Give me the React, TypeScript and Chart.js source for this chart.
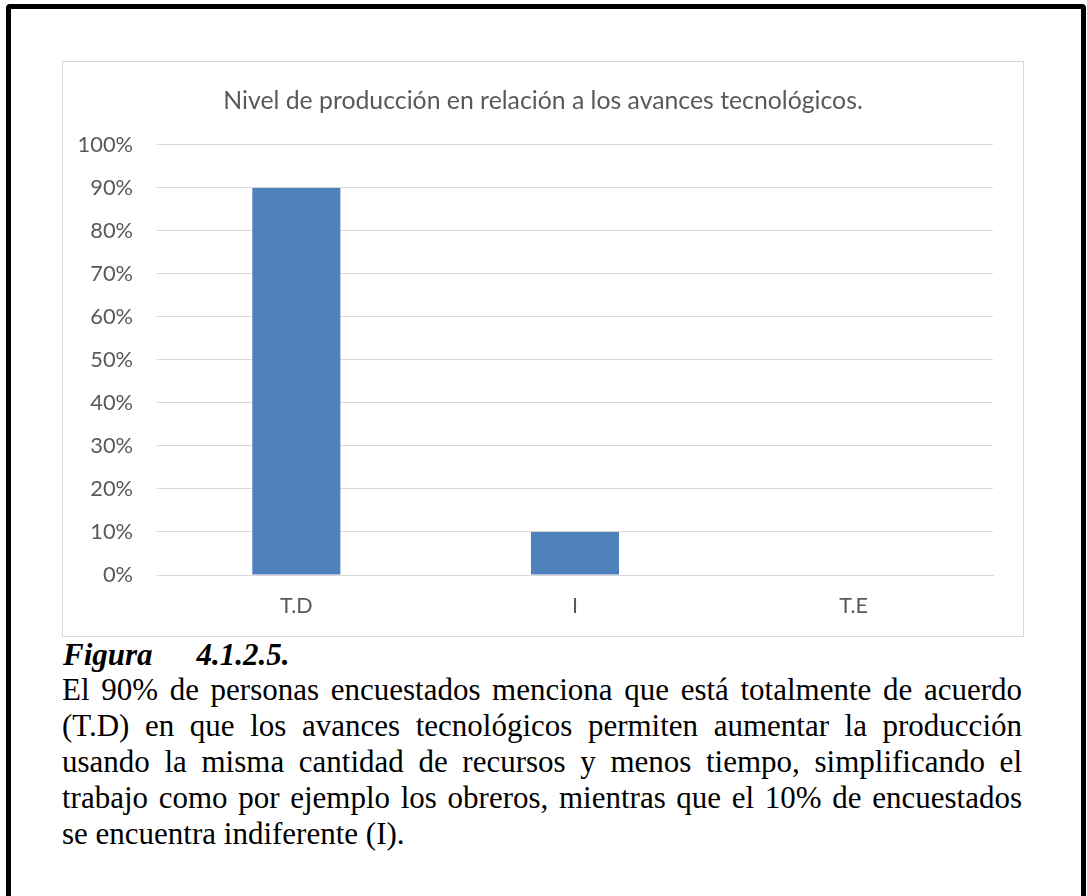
import React, { useEffect, useRef } from "react";
import { Chart, registerables } from "chart.js";

Chart.register(...registerables);

const categories: string[] = ["T.D", "I", "T.E"];
const percentValues: number[] = [90, 10, 0];
const chartTitle = "Nivel de producción en relación a los avances tecnológicos.";
const yTickMax = 100;
const yTickStep = 10;

const captionLabel = "Figura";
const captionNumber = "4.1.2.5.";
const bodyLines: string[] = [
  "El 90% de personas encuestados menciona que está totalmente de acuerdo",
  "(T.D) en que los avances tecnológicos permiten aumentar la producción",
  "usando la misma cantidad de recursos y menos tiempo, simplificando el",
  "trabajo como por ejemplo los obreros, mientras que el 10% de encuestados",
  "se encuentra indiferente (I).",
];

function BarChart() {
  const ref = useRef<HTMLCanvasElement | null>(null);
  useEffect(() => {
    if (!ref.current) return;
    const chart = new Chart(ref.current, {
      type: "bar",
      data: {
        labels: categories,
        datasets: [
          {
            label: "Porcentaje",
            data: percentValues,
            backgroundColor: "#4f81bd",
            borderWidth: 0,
            barPercentage: 0.316,
            categoryPercentage: 1,
          },
        ],
      },
      options: {
        responsive: false,
        animation: false,
        devicePixelRatio: 1,
        layout: { padding: { left: 0, right: 0, top: 0, bottom: 0 } },
        font: { family: "Lato" },
        plugins: {
          legend: { display: false },
          tooltip: { enabled: false },
          title: {
            display: true,
            text: chartTitle,
            color: "#595959",
            font: { family: "Lato", size: 24.8, weight: "normal" },
            padding: { top: 24.1, bottom: 29.1 },
          },
        },
        scales: {
          x: {
            grid: { display: false, drawTicks: false },
            border: { display: true, color: "#d9d9d9", width: 1 },
            ticks: {
              color: "#595959",
              font: { family: "Lato", size: 21.5 },
              padding: 18,
            },
            afterFit: (scale: any) => {
              scale.height = 61;
            },
          },
          y: {
            min: 0,
            max: yTickMax,
            grid: { color: "#d9d9d9", lineWidth: 1, drawTicks: false },
            border: { display: false },
            ticks: {
              stepSize: yTickStep,
              color: "#595959",
              font: { family: "Lato", size: 21.8 },
              padding: 24,
              callback: (v: any) => `${v}%`,
            },
            afterFit: (scale: any) => {
              scale.width = 94;
            },
          },
          yRightSpace: {
            type: "linear",
            position: "right",
            display: true,
            grid: { display: false, drawTicks: false },
            border: { display: false },
            ticks: { display: false },
            afterFit: (scale: any) => {
              scale.width = 30;
            },
          },
        },
      },
    } as any);
    return () => chart.destroy();
  }, []);
  return <canvas ref={ref} width={960} height={574} style={{ display: "block", width: 960, height: 574 }} />;
}

export default function App() {
  const serif = '"Liberation Serif", "Times New Roman", serif';
  return (
    <div
      style={{
        position: "absolute",
        left: 0,
        top: 0,
        width: 1087,
        height: 896,
        overflow: "hidden",
        background: "#ffffff",
      }}
    >
      <div
        style={{
          position: "absolute",
          left: 6,
          top: 4,
          width: 1080,
          height: 910,
          border: "5px solid #000",
          borderRadius: 4,
          boxSizing: "border-box",
        }}
      />
      <div
        style={{
          position: "absolute",
          left: 62,
          top: 61,
          width: 962,
          height: 576,
          border: "1px solid #d9d9d9",
          boxSizing: "border-box",
        }}
      >
        <BarChart />
      </div>
      <div
        style={{
          position: "absolute",
          left: 63,
          top: 638,
          fontFamily: serif,
          fontSize: 31,
          lineHeight: "34px",
          fontWeight: "bold",
          fontStyle: "italic",
          color: "#000",
          whiteSpace: "nowrap",
        }}
      >
        <span>{captionLabel}</span>
        <span style={{ marginLeft: 44 }}>{captionNumber}</span>
      </div>
      <div
        style={{
          position: "absolute",
          left: 62,
          top: 672,
          width: 960,
          fontFamily: serif,
          fontSize: 31,
          lineHeight: "36px",
          color: "#000",
        }}
      >
        {bodyLines.map((line, i) => (
          <div
            key={i}
            style={{
              whiteSpace: "nowrap",
              textAlign: i < bodyLines.length - 1 ? "justify" : "left",
              textAlignLast: i < bodyLines.length - 1 ? "justify" : "left",
            }}
          >
            {line}
          </div>
        ))}
      </div>
    </div>
  );
}
